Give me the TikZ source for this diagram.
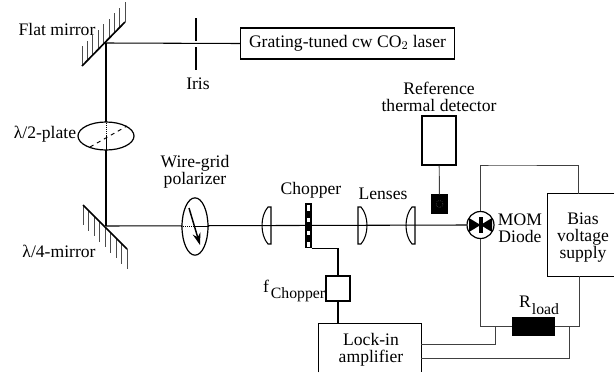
\documentclass[tikz,border=0pt]{standalone}
\usepackage{fontspec}
\setmainfont{Liberation Serif}
\usetikzlibrary{shapes.geometric, arrows.meta, calc}
\tikzset{
    box/.style={draw, line width=0.8pt, inner sep=0pt},
    txtlabel/.style={font=\fontsize{13.2}{12.75}\selectfont, inner sep=0pt, align=center},
    sublabel/.style={font=\fontsize{11.8}{12.75}\selectfont, inner sep=0pt},
    beam/.style={line width=0.8pt},
    wire/.style={line width=0.6pt, black!75},
    mirror/.style={line width=1.25pt},
    hatch/.style={line width=0.4pt, black!70},
    lens/.style={line width=0.8pt}
}
\begin{document}
\begin{tikzpicture}[x=0.75pt, y=-0.75pt]
    \useasboundingbox (0,0) rectangle (615,372);
    % Beam points
    \coordinate (flatpt) at (106,43);
    \coordinate (quarterpt) at (106,226);

    % Boxes
    \node[box, minimum width=160pt, minimum height=23.25pt] (laser) at (347.5,43.5) {};
    \node[box, minimum width=25.5pt, minimum height=36.75pt] (refdet) at (439,140.5) {};
    \node[box, fill=black, minimum width=11.25pt, minimum height=13.5pt] (thermal) at (439.5,204) {};
    \node[box, minimum width=18pt, minimum height=18.75pt] (fchop) at (338,288.5) {};
    \node[minimum width=76.5pt, minimum height=36pt, inner sep=0pt] (lockin) at (370,348) {};
    \node[minimum width=49.5pt, minimum height=61.5pt, inner sep=0pt] (bias) at (581,235) {};
    \node[box, fill=black, minimum width=30.75pt, minimum height=12.75pt] (rload) at (533.5,326.5) {};
    \node[circle, draw, line width=0.9pt, minimum size=20.25pt, inner sep=0pt] (diode) at (480.5,225) {};
    \draw[line width=0.8pt] (lockin.south west) |- (lockin.north east) -- (lockin.south east);
    \draw[line width=0.8pt] (bias.north east) -- (bias.north west) |- (bias.south east);
    \draw[densely dotted, black!60, line width=0.4pt] (thermal.center) circle (3.5);

    % Beam
    \draw[beam] (flatpt) -- (laser.west);
    \draw[beam] (flatpt) -- (quarterpt);
    \draw[beam] (quarterpt) -- (diode.west);

    % Mirrors
    \foreach \t in {0,0.125,...,1.01} {
        \draw[hatch] ($(82,66)!\t!(125,22)$) -- ++(0,-20);
        \draw[hatch] ($(83,205)!\t!(127,249)$) -- ++(0,20);
    }
    \draw[mirror] (82,66) -- (125,22);
    \draw[mirror] (83,205) -- (127,249);

    % Iris
    \draw[mirror] (196,18) -- (196,41);
    \draw[mirror] (196,47) -- (196,70);

    % Half-wave plate
    \node[ellipse, draw, line width=0.9pt, fill=white, minimum width=42pt, minimum height=21pt, inner sep=0pt] (halfplate) at (106,136) {};
    \draw[dashed, line width=0.7pt] (90,147) -- (127,126);
    \draw[densely dotted, line width=0.5pt] (halfplate.north) -- (halfplate.center);
    \draw[line width=0.7pt] (halfplate.center) -- (halfplate.south);

    % Polarizer
    \node[ellipse, draw, line width=0.9pt, fill=white, minimum width=19.5pt, minimum height=43pt, inner sep=0pt] (polarizer) at (195,226.5) {};
    \draw[densely dotted, line width=0.5pt] (polarizer.west) -- (polarizer.center);
    \draw[line width=0.7pt] (polarizer.center) -- (polarizer.east);
    \draw[-{Stealth[length=9pt,width=6pt]}, line width=1.1pt] (189,208) -- (200,245);

    % Lenses
    \foreach \x/\e/\c in {271/268/260, 358/361/369, 415/412/404} {
        \draw[lens] (\x,207) -- (\e,207) .. controls (\c,216) and (\c,235) .. (\e,244) -- (\x,244) -- cycle;
    }

    % Chopper
    \node[box, fill=black, minimum width=3.75pt, minimum height=32.25pt] (chopper) at (308.5,225.5) {};
    \foreach \y/\h in {208/3, 220/2, 232.5/2, 244.5/2.5} {
        \fill[white] (307.3,\y-\h) rectangle (309.7,\y+\h);
    }

    % Diode
    \fill (diode.center) -- (469,218) -- (469,232) -- cycle;
    \fill (diode.center) -- (492,218) -- (492,232) -- cycle;
    \fill (478.5,217) rectangle (482.5,233);

    % Wires
    \draw[line width=0.7pt, black!75] (thermal) -- (refdet);
    \draw[wire] (diode.north) |- (496,165) -| (578,194);
    \draw[wire] (diode.south) |- (rload.west);
    \draw[wire] (rload.east) -| (579,276);
    \draw[wire] (lockin.east |- 0,344) -| (495,327);
    \draw[wire] (lockin.east |- 0,358) -| (569,327);
    \draw[line width=0.8pt] (chopper.south east) ++(0,-1pt) -| (fchop.north);
    \draw[line width=1pt] (fchop) -- (lockin.north -| fchop);

    % Labels
    \node[txtlabel] (lflat) at (57,29) {Flat mirror};
    \node[txtlabel] (liris) at (198,84) {Iris};
    \node[txtlabel] (llaser) at (347.5,43) {Grating-tuned cw CO$_2$ laser};
    \node[txtlabel] (lref) at (439,96.5) {Reference\\thermal detector};
    \node[txtlabel] (lhalf) at (45,134) {λ/2-plate};
    \node[txtlabel] (lgrid) at (195,172) {Wire-grid\\polarizer};
    \node[txtlabel] (lquarter) at (59,251) {λ/4-mirror};
    \node[txtlabel] (lchop) at (311,190) {Chopper};
    \node[txtlabel] (llens) at (383,194) {Lenses};
    \node[txtlabel] (lmom) at (520,228.5) {MOM\\Diode};
    \node[txtlabel] (lbias) at (583,238) {Bias\\voltage\\supply};
    \node[txtlabel] (lrl) at (525,302) {R};
    \node[sublabel] (lrs) at (545.5,309) {load};
    \node[txtlabel] (lfc) at (266,286) {f};
    \node[sublabel] (lfs) at (298,295) {Chopper};
    \node[txtlabel] (llock) at (371,349.5) {Lock-in\\amplifier};
\end{tikzpicture}
\end{document}
